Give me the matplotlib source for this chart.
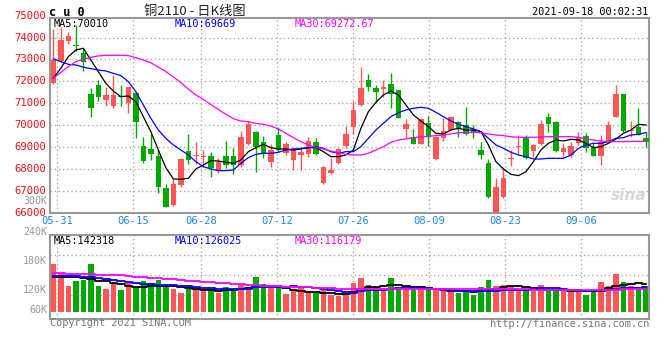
import numpy as np
import matplotlib
matplotlib.use("Agg")
import matplotlib.pyplot as plt
from matplotlib.transforms import blended_transform_factory as blend

plt.rcParams['font.family'] = ['DejaVu Sans Mono']

# daily OHLC, cu0 (2021-05-28 .. 2021-09-17)
opens = [71913, 72947, 73860, 73640, 73310, 71430, 71840, 71153, 70890, 71320,
         71000, 71470, 69060, 68920, 68610, 67150, 66370, 67280, 68830, 68580,
         68560, 68600, 67915, 68600, 68600, 68190, 69150, 69710, 69250, 68310,
         69560, 68720, 68420, 68645, 68675, 69250, 67380, 67810, 68265, 69055,
         69940, 70925, 72065, 71715, 71655, 71880, 71610, 69815, 69465, 69160,
         70090, 68460, 69435, 69785, 70135, 70015, 69785, 68870, 68295, 65960,
         66745, 68480, 69010, 69435, 68845, 69130, 70365, 70135, 68800, 68645,
         69175, 69510, 68995, 68615, 69255, 70395, 71425, 69730, 69940, 69435]
closes = [72990, 73889, 74070, 73600, 72900, 70800, 71305, 71381, 71400, 71290,
          71730, 70160, 68380, 68700, 67200, 66290, 67320, 68450, 68420, 68600,
          68580, 68070, 68340, 68190, 68190, 69480, 70060, 69025, 68680, 68870,
          68870, 69160, 68950, 68770, 69280, 68680, 68110, 67960, 68920, 69600,
          70700, 71715, 71760, 71530, 71760, 71410, 70350, 70045, 69160, 70290,
          69480, 69480, 69740, 70390, 69890, 69590, 69630, 68645, 66745, 67200,
          67580, 68500, 69030, 68525, 69100, 70060, 70045, 68830, 68950, 69055,
          69450, 68980, 68615, 69250, 70015, 71425, 69740, 69750, 69560, 69225]
highs = [74390, 74480, 74250, 74570, 73510, 71720, 72065, 71730, 72290, 71840,
         71750, 71500, 69480, 69600, 68850, 67330, 67540, 68490, 69600, 69250,
         68870, 68800, 68490, 69280, 68950, 69740, 70200, 69740, 69530, 69130,
         69940, 69250, 68960, 68980, 69480, 69400, 68120, 68490, 68980, 69970,
         71110, 72670, 72320, 71840, 72065, 72370, 71620, 70290, 69830, 70320,
         70440, 69500, 70320, 70400, 70200, 70850, 70010, 69250, 68460, 67610,
         68110, 68870, 69560, 69560, 69150, 70240, 70575, 70210, 69180, 69250,
         69710, 69630, 69180, 69560, 70200, 71840, 71440, 70200, 70800, 69710]
lows = [71890, 72900, 73700, 73400, 72490, 70390, 71107, 70880, 70800, 70880,
        70560, 69440, 68300, 68400, 66900, 66280, 66320, 67200, 68230, 68230,
        68110, 67660, 67810, 68070, 67763, 68110, 69100, 67860, 68520, 68110,
        68770, 68645, 67960, 67960, 68570, 68640, 67320, 67760, 68220, 68950,
        69590, 70900, 71560, 71050, 71305, 70770, 70340, 69405, 69150, 69150,
        69070, 68420, 69280, 69770, 69480, 69560, 69435, 68460, 66670, 65950,
        66700, 68160, 68680, 68460, 68570, 69100, 69680, 68800, 68570, 68570,
        69100, 68800, 68610, 68190, 69240, 70370, 69710, 69480, 69540, 69025]

ma5 = [72141, 72597, 73129, 73433, 73509, 72977, 72445, 71913, 71563, 71305,
       71335, 71077, 70393, 69709, 68873, 68067, 67550, 67535, 67581, 68007,
       68189, 68387, 68371, 68311, 68265, 68417, 68797, 68979, 69131, 68979,
       68919, 68919, 68873, 68919, 68979, 68979, 68797, 68569, 68569, 68645,
       68873, 69861, 70621, 71047, 71381, 71563, 71381, 70925, 70469, 70195,
       69937, 69633, 69603, 69785, 69861, 69785, 69785, 69709, 69101, 68341,
       68007, 67763, 67703, 67885, 68341, 68873, 69177, 69329, 69283, 69359,
       69329, 69177, 68979, 69025, 69177, 69375, 69633, 69785, 70043, 70010]
ma10 = [73023, 72901, 72779, 72749, 72650, 72580, 72520, 72475, 72369, 72263,
        71989, 71533, 70925, 70317, 69785, 69405, 69101, 68873, 68645, 68341,
        68113, 68007, 67931, 67931, 67961, 68265, 68523, 68675, 68721, 68721,
        68767, 68873, 68903, 68949, 68979, 69025, 68949, 68797, 68721, 68797,
        68797, 69025, 69405, 69785, 70089, 70393, 70575, 70697, 70773, 70819,
        70773, 70590, 70393, 70195, 70043, 69937, 69831, 69709, 69405, 69101,
        68949, 68767, 68645, 68569, 68463, 68463, 68493, 68493, 68493, 68645,
        68950, 69101, 69177, 69177, 69253, 69405, 69435, 69557, 69587, 69669]
ma30 = [72141, 72415, 72673, 72901, 73007, 73099, 73159, 73190, 73190, 73190,
        73175, 73083, 72977, 72850, 72650, 72450, 72200, 71950, 71650, 71380,
        71180, 70950, 70720, 70500, 70300, 70195, 70165, 70089, 70043, 69967,
        69831, 69633, 69435, 69253, 69101, 68995, 68919, 68827, 68751, 68675,
        68645, 68645, 68721, 68873, 69025, 69223, 69329, 69375, 69435, 69466,
        69496, 69527, 69557, 69603, 69663, 69679, 69679, 69663, 69603, 69557,
        69527, 69481, 69451, 69451, 69451, 69466, 69481, 69481, 69481, 69481,
        69451, 69375, 69329, 69283, 69253, 69253, 69253, 69260, 69265, 69273]

# volume, thousands of lots
vol_k = [241.0, 194.5, 132.8, 157.8, 162.8, 241.1, 132.8, 116.1, 144.5, 111.1,
         144.5, 124.5, 157.8, 144.5, 161.1, 132.8, 116.1, 96.1, 136.1, 116.1,
         116.1, 111.1, 96.1, 127.8, 116.1, 141.1, 127.8, 177.8, 141.1, 127.8,
         132.8, 91.1, 107.8, 119.5, 107.8, 96.1, 116.1, 86.1, 82.8, 94.5,
         146.1, 171.1, 136.1, 127.8, 121.1, 171.1, 116.1, 121.1, 124.5, 121.1,
         124.5, 116.1, 111.1, 102.8, 96.1, 107.8, 86.1, 127.8, 161.1, 132.8,
         136.1, 129.5, 116.1, 107.8, 107.8, 136.1, 107.8, 111.1, 116.1, 107.8,
         107.8, 86.1, 99.5, 152.8, 132.8, 191.1, 152.8, 132.8, 124.5, 132.8]
vma5_k = [177.8, 177.8, 174.5, 174.5, 172.8, 166.2, 157.8, 154.5, 146.2, 141.0,
          129.5, 124.5, 126.2, 129.5, 132.8, 132.8, 132.8, 124.5, 119.5, 116.2,
          112.8, 111.2, 107.8, 111.2, 111.2, 116.2, 121.2, 129.5, 129.5, 129.5,
          127.8, 121.2, 111.2, 104.5, 102.8, 99.5, 97.8, 94.5, 91.2, 90.0,
          99.5, 116.2, 124.5, 127.8, 132.8, 136.2, 136.2, 132.8, 127.8, 124.5,
          121.2, 116.2, 114.5, 107.8, 104.5, 104.5, 99.5, 104.5, 111.2, 116.2,
          124.5, 129.5, 129.5, 127.8, 121.2, 112.8, 111.2, 111.2, 111.2, 107.8,
          104.5, 104.5, 104.5, 107.8, 119.5, 129.5, 137.8, 141.2, 144.5, 142.3]
vma10_k = [182.8, 182.8, 181.2, 179.5, 177.8, 174.5, 169.5, 166.2, 161.2, 156.2,
           151.2, 146.2, 141.2, 139.5, 137.8, 137.8, 136.2, 132.8, 129.5, 124.5,
           121.2, 119.5, 117.8, 117.8, 116.2, 116.2, 116.2, 124.5, 124.5, 124.5,
           124.5, 127.8, 129.5, 127.8, 124.5, 121.2, 116.2, 111.2, 104.5, 99.5,
           97.8, 104.5, 111.2, 111.2, 112.8, 117.8, 119.5, 119.5, 121.2, 121.2,
           119.5, 116.2, 111.2, 111.2, 107.8, 107.8, 107.8, 107.8, 107.8, 107.8,
           111.2, 111.2, 111.2, 111.2, 114.5, 119.5, 119.5, 119.5, 116.2, 111.2,
           111.2, 107.8, 107.8, 109.5, 111.2, 116.2, 119.5, 121.2, 122.8, 126.0]
vma30_k = [196.2, 194.5, 192.8, 191.2, 189.5, 189.5, 187.8, 187.8, 186.1, 184.5,
           179.5, 176.2, 174.5, 171.2, 169.5, 166.2, 164.5, 161.2, 157.8, 154.5,
           151.2, 149.5, 147.8, 146.2, 142.8, 141.2, 137.8, 134.5, 132.8, 131.2,
           129.5, 127.8, 127.8, 126.2, 124.5, 122.8, 121.2, 119.5, 117.8, 116.2,
           114.5, 114.5, 114.5, 114.5, 116.2, 116.2, 116.2, 116.2, 116.2, 116.2,
           116.2, 116.2, 116.2, 116.2, 116.2, 114.5, 114.5, 114.5, 114.5, 114.5,
           114.5, 114.5, 114.5, 114.5, 112.8, 112.8, 112.8, 112.8, 112.8, 112.8,
           112.8, 112.8, 111.2, 111.2, 112.8, 112.8, 114.5, 114.5, 116.2, 116.2]

date_idx = [1, 11, 20, 30, 40, 50, 60, 70]
date_lbl = ["05-31", "06-15", "06-28", "07-12", "07-26", "08-09", "08-23", "09-06"]
price_lbl = list(range(66000, 75001, 1000))
vol_lbl = ["300K", "240K", "180K", "120K", "60K"]
vol_lbl_y = [201, 232, 261, 290, 310]   # pixel rows of the (odd) sina volume labels

RED, GREEN = "#ff5555", "#00a800"
GRID = dict(color="#aaaaaa", linestyle=(0, (1, 2)), linewidth=1)
W, H = 660, 360
def rect(l, t, r, b):
    return [l / W, 1 - b / H, (r - l) / W, (b - t) / H]

x = np.arange(len(opens))
o, c, h, l = map(np.array, (opens, closes, highs, lows))
up = c >= o
cols = np.where(up, RED, GREEN)
gx = [d - 0.5 + 0.0125 * d for d in date_idx]

fig = plt.figure(figsize=(6.6, 3.6), dpi=100)
ax = fig.add_axes(rect(50, 18, 649, 213))
axv = fig.add_axes(rect(50, 234.5, 649, 318.5))

# --- price panel
ax.vlines(x, l, h, colors=cols, lw=1, zorder=2)
body = np.maximum(np.abs(c - o), 45)
ax.bar(x, body, bottom=np.minimum(o, c), width=0.74, color=cols, lw=0, zorder=3)
ax.plot(x, ma5, color="black", lw=0.9, zorder=4)
ax.plot(x, ma10, color="#0000ff", lw=0.9, zorder=4)
ax.plot(x, ma30, color="#ff00ff", lw=0.9, zorder=4)
ax.set_xlim(-0.44, 79.4); ax.set_ylim(66000, 74890)
ax.set_yticks(price_lbl[1:-1]); ax.set_xticks(gx)
ax.grid(True, **GRID); ax.set_axisbelow(True)
ax.tick_params(length=0, labelleft=False, labelbottom=False)
tr = blend(ax.transAxes, ax.transData)
for p in price_lbl:
    ax.text(-0.006, p, str(p), transform=tr, ha="right", va="center",
            color="#ee1111", fontsize=7.6, clip_on=False)
trd = blend(ax.transData, ax.transAxes)
for g, s in zip(gx, date_lbl):
    ax.text(g, -0.041, s, transform=trd, ha="center", va="center",
            color="#1a88e0", fontsize=7.6, clip_on=False)
ax.text(0.995, 0.09, "sina", transform=ax.transAxes, ha="right", va="center",
        color="#d8d8d8", fontsize=11, style="italic", weight="bold",
        family="DejaVu Sans")

# --- volume panel
axv.bar(x, np.array(vol_k) * 1000, width=0.72, color=cols, lw=0)
axv.plot(x, np.array(vma5_k) * 1000, color="black", lw=1.3, drawstyle="steps-mid")
axv.plot(x, np.array(vma10_k) * 1000, color="#0000ff", lw=1.3, drawstyle="steps-mid")
axv.plot(x, np.array(vma30_k) * 1000, color="#ff00ff", lw=1.3, drawstyle="steps-mid")
axv.set_xlim(-0.44, 79.4); axv.set_ylim(-30400, 387700)
axv.set_yticks([86000, 186000, 286000]); axv.set_xticks(gx)
axv.grid(True, **GRID); axv.set_axisbelow(True)
axv.tick_params(length=0, labelleft=False, labelbottom=False)

for a in (ax, axv):
    for sp in a.spines.values():
        sp.set_color("#999999"); sp.set_linewidth(1.5)

# --- texts
fs = 7.4
fig.text(49 / W, 1 - 12 / H, "c u 0", fontsize=8.5, weight="bold", va="center")
fig.text(195 / W, 1 - 12 / H, "铜2110 - 日K线图", ha="center", va="center",
         fontsize=9.5, color="#222222", family=["Noto Sans CJK SC", "DejaVu Sans"])
fig.text(648 / W, 1 - 12 / H, "2021-09-18 00:02:31", ha="right", va="center", fontsize=fs)
fig.text(54 / W, 1 - 24 / H, "MA5:70010", va="center", fontsize=fs, color="black")
fig.text(175 / W, 1 - 24 / H, "MA10:69669", va="center", fontsize=fs, color="#0000ff")
fig.text(295 / W, 1 - 24 / H, "MA30:69272.67", va="center", fontsize=fs, color="#ff00ff")
fig.text(54 / W, 1 - 241 / H, "MA5:142318", va="center", fontsize=fs, color="black")
fig.text(175 / W, 1 - 241 / H, "MA10:126025", va="center", fontsize=fs, color="#0000ff")
fig.text(295 / W, 1 - 241 / H, "MA30:116179", va="center", fontsize=fs, color="#ff00ff")
for s, py in zip(vol_lbl, vol_lbl_y):
    fig.text(47 / W, 1 - py / H, s, ha="right", va="center", fontsize=7.2, color="#999999")
fig.text(50 / W, 1 - 323 / H, "Copyright 2021 SINA.COM", va="center", fontsize=fs, color="#777777")
fig.text(649 / W, 1 - 324 / H, "http://finance.sina.com.cn", ha="right", va="center",
         fontsize=fs, color="#777777")

fig.savefig("out.png", dpi=100, facecolor="white")
